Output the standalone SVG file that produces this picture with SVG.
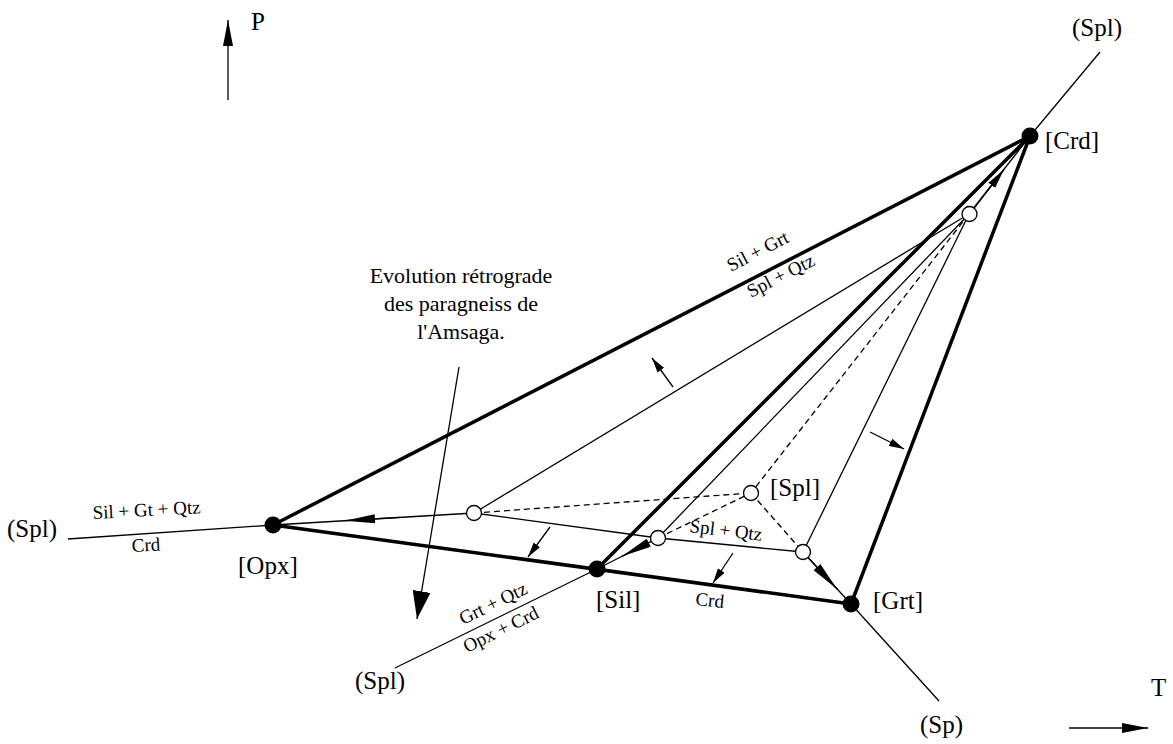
<svg xmlns="http://www.w3.org/2000/svg" width="1173" height="744" viewBox="0 0 1173 744">
<style>
.thick{stroke:#000;stroke-width:3.5;fill:none;stroke-linecap:round}
.thin{stroke:#000;stroke-width:1.3;fill:none}
.dash{stroke:#000;stroke-width:1.3;fill:none;stroke-dasharray:6 4}
.dot{fill:#000}
.ocirc{fill:#fff;stroke:#000;stroke-width:1.3}
text{font-family:"Liberation Serif","Times New Roman",serif;fill:#000}
.big{font-size:25px}
.sm{font-size:19px}
.ev{font-size:22px;text-anchor:middle}
</style>
<defs>
<marker id="ah" markerUnits="userSpaceOnUse" markerWidth="30" markerHeight="11" refX="30" refY="5.5" orient="auto" viewBox="0 0 30 11"><path d="M0,1 L30,5.5 L0,10 z" fill="#000"/></marker>
<marker id="ah2" markerUnits="userSpaceOnUse" markerWidth="20" markerHeight="10" refX="20" refY="5" orient="auto" viewBox="0 0 20 10"><path d="M0,0.8 L20,5 L0,9.2 z" fill="#000"/></marker>
<marker id="sa" markerUnits="userSpaceOnUse" markerWidth="15" markerHeight="9" refX="15" refY="4.5" orient="auto" viewBox="0 0 15 9"><path d="M0,0.5 L15,4.5 L0,8.5 z" fill="#000"/></marker>
<marker id="bigh" markerUnits="userSpaceOnUse" markerWidth="28" markerHeight="18" refX="28" refY="9" orient="auto" viewBox="0 0 28 18"><path d="M0,0 L28,9 L0,18 z" fill="#000"/></marker>
<marker id="ax" markerUnits="userSpaceOnUse" markerWidth="26" markerHeight="10" refX="26" refY="5" orient="auto" viewBox="0 0 26 10"><path d="M0,0 L26,5 L0,10 z" fill="#000"/></marker>
</defs>

<g id="axes">
<path class="thin" d="M228,100 L228,20" marker-end="url(#ax)"/>
<text class="big" x="251" y="30">P</text>
<path class="thin" d="M1069,728 L1148,728" marker-end="url(#ax)"/>
<text class="big" x="1151" y="696">T</text>
</g>

<g id="connectors">
<path class="thick" d="M273,525 L1030,136"/>
<path class="thick" d="M273,525 L851,604"/>
<path class="thick" d="M851,604 L1030,136"/>
<path class="thick" d="M597,569 L1030,136"/>
<path class="thin" d="M1030,136 L1100,52"/>
<path class="thin" d="M273,525 L68,539"/>
<path class="thin" d="M597,569 L395,668"/>
<path class="thin" d="M851,604 L939,701"/>
<path class="thin" d="M969,214 L474,513"/>
<path class="thin" d="M969,214 L658,538"/>
<path class="thin" d="M969,214 L803,552"/>
<path class="thin" d="M474,513 L658,538 L803,552"/>
<path class="thin" d="M474,513 L273,525"/>
<path class="thin" d="M658,538 L597,569"/>
<path class="thin" d="M803,552 L851,604"/>
<path class="thin" d="M969,214 L1030,136"/>
<path class="dash" d="M474,513 L751,493"/>
<path class="dash" d="M658,538 L751,493"/>
<path class="dash" d="M751,493 L803,552"/>
<path class="dash" d="M969,214 L751,493"/>
<path class="thin" d="M400,517.3 L345,520.7" marker-end="url(#ah)"/>
<path class="thin" d="M658,538 L622,556.3" marker-end="url(#ah)"/>
<path class="thin" d="M803,552 L837.3,589.2" marker-end="url(#ah)"/>
<path class="thin" d="M969.5,214 L1004,169.5" marker-end="url(#ah2)"/>
<path class="thin" d="M673,387 L652,358" marker-end="url(#sa)"/>
<path class="thin" d="M870,432 L904,449" marker-end="url(#sa)"/>
<path class="thin" d="M550,527 L528,557" marker-end="url(#sa)"/>
<path class="thin" d="M733,553 L713,583" marker-end="url(#sa)"/>
<path class="thin" d="M459,367 L417,619" marker-end="url(#bigh)"/>
</g>

<g id="node-crd"><circle class="dot" cx="1030" cy="136" r="8.5"/><text class="big" x="1045" y="149">[Crd]</text></g>
<g id="node-opx"><circle class="dot" cx="273" cy="525" r="8.5"/><text class="big" x="238" y="574">[Opx]</text></g>
<g id="node-sil"><circle class="dot" cx="597" cy="569" r="8.5"/><text class="big" x="596" y="608">[Sil]</text></g>
<g id="node-grt"><circle class="dot" cx="851" cy="604" r="8.5"/><text class="big" x="873" y="609">[Grt]</text></g>
<g id="node-spl"><circle class="ocirc" cx="751" cy="493" r="7.5"/><text class="big" x="770" y="496">[Spl]</text></g>
<g id="inv-top"><circle class="ocirc" cx="969.5" cy="214" r="7.5"/></g>
<g id="inv-left"><circle class="ocirc" cx="474" cy="513" r="7.5"/></g>
<g id="inv-mid"><circle class="ocirc" cx="658" cy="538" r="7.5"/></g>
<g id="inv-right"><circle class="ocirc" cx="803" cy="552" r="7.5"/></g>

<g id="labels">
<text class="big" x="1072" y="36">(Spl)</text>
<text class="big" x="7" y="537">(Spl)</text>
<text class="big" x="355" y="689">(Spl)</text>
<text class="big" x="920" y="733">(Sp)</text>
<text class="sm" transform="translate(731,272) rotate(-27.2)">Sil + Grt</text>
<text class="sm" transform="translate(751,298) rotate(-27.2)">Spl + Qtz</text>
<text class="sm" transform="translate(463,625) rotate(-26.1)">Grt + Qtz</text>
<text class="sm" transform="translate(467,653) rotate(-26.1)">Opx + Crd</text>
<text class="sm" transform="translate(689,532) rotate(7)">Spl + Qtz</text>
<text class="sm" transform="translate(695,605) rotate(6)">Crd</text>
<text class="sm" transform="translate(93,519) rotate(-3)">Sil + Gt + Qtz</text>
<text class="sm" transform="translate(132,552) rotate(-3)">Crd</text>
<text class="ev" x="461" y="283">Evolution rétrograde</text>
<text class="ev" x="461" y="311">des paragneiss de</text>
<text class="ev" x="461" y="339">l'Amsaga.</text>
</g>
</svg>
